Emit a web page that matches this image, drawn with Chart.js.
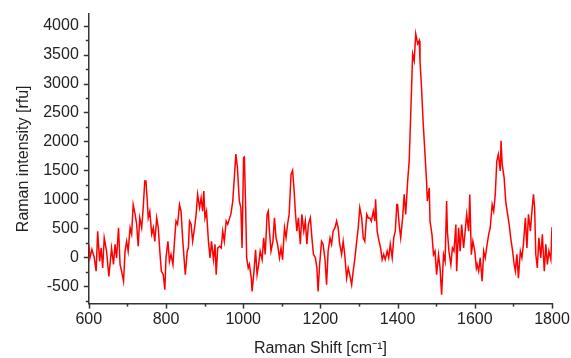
<!DOCTYPE html>
<html>
<head>
<meta charset="utf-8">
<script src="https://cdn.jsdelivr.net/npm/chart.js@4.4.1/dist/chart.umd.min.js"></script>
<style>
  html, body { margin: 0; padding: 0; background: #fff; }
  #wrap { width: 571px; height: 358px; }
</style>
</head>
<body>
<div id="wrap"><canvas id="myChart"></canvas></div>
<script>
// data
const shift = [600, 603, 608, 614, 619, 623, 628, 632, 636, 640, 646, 652, 659, 664, 668, 672, 677, 681, 685, 690, 694, 698, 702, 707, 711, 715, 720, 724, 728, 732, 737, 741, 745, 748, 751, 754, 758, 763, 767, 771, 776, 780, 784, 788, 793, 797, 800, 805, 809, 813, 818, 822, 826, 830, 835, 839, 843, 848, 850, 855, 858, 861, 865, 869, 874, 878, 882, 887, 891, 895, 898, 901, 905, 910, 914, 918, 923, 927, 930, 934, 939, 943, 947, 951, 956, 960, 965, 968, 973, 977, 981, 985, 990, 994, 997, 1001, 1003, 1006, 1009, 1013, 1016, 1021, 1023, 1028, 1032, 1036, 1040, 1044, 1049, 1053, 1057, 1062, 1065, 1068, 1072, 1077, 1081, 1085, 1089, 1094, 1098, 1102, 1107, 1111, 1115, 1119, 1124, 1128, 1132, 1135, 1139, 1143, 1148, 1152, 1157, 1161, 1165, 1169, 1174, 1178, 1182, 1187, 1191, 1194, 1198, 1203, 1207, 1212, 1216, 1220, 1225, 1229, 1233, 1238, 1242, 1246, 1250, 1255, 1259, 1263, 1268, 1272, 1276, 1281, 1285, 1289, 1294, 1298, 1302, 1307, 1311, 1315, 1320, 1324, 1328, 1332, 1337, 1341, 1343, 1347, 1352, 1356, 1360, 1364, 1368, 1373, 1377, 1381, 1386, 1390, 1394, 1398, 1400, 1404, 1408, 1413, 1417, 1421, 1426, 1430, 1434, 1439, 1443, 1447, 1452, 1456, 1458, 1462, 1466, 1470, 1475, 1477, 1482, 1484, 1489, 1493, 1497, 1501, 1506, 1510, 1514, 1519, 1523, 1527, 1529, 1533, 1538, 1542, 1546, 1551, 1553, 1558, 1562, 1566, 1571, 1575, 1579, 1584, 1587, 1591, 1595, 1600, 1604, 1606, 1610, 1614, 1619, 1623, 1627, 1632, 1636, 1640, 1645, 1649, 1653, 1657, 1661, 1666, 1668, 1671, 1676, 1680, 1685, 1689, 1693, 1698, 1702, 1705, 1709, 1713, 1718, 1722, 1726, 1731, 1735, 1739, 1744, 1748, 1752, 1755, 1758, 1762, 1766, 1771, 1775, 1780, 1784, 1788, 1792, 1797, 1800];
const intensity = [225, -10, 135, 0, -240, 450, -70, 160, -185, 335, 105, -330, 160, -125, 225, -10, 510, -125, -240, -415, 105, 275, 105, 510, 400, 910, 740, 570, 190, 680, 510, 855, 1315, 1315, 1027, 680, 795, 400, 510, 275, 680, 510, 105, -240, -300, -560, -10, 275, -70, 50, -125, 275, 625, 570, 910, 795, 335, -125, -300, 105, 160, 625, 570, 275, 510, 740, 1085, 855, 1027, 795, 1143, 680, 795, 275, -10, 275, -40, 225, -300, 160, 190, 160, 450, 275, 625, 570, 680, 740, 970, 1374, 1780, 1547, 970, 855, 160, 1720, 1730, 970, -10, -185, -125, -360, -590, -240, 130, -300, -125, 105, -40, 335, 50, 740, 795, 450, 105, 275, 680, 335, 225, -10, 160, -40, 510, 335, 570, 740, 1430, 1500, 1143, 795, 450, 680, 225, 740, 450, 625, 225, 570, 680, 335, 50, -10, -185, -590, -125, 275, 225, -40, -475, 105, 335, 225, 450, 510, 625, 510, 225, 50, 275, 50, -360, -185, -300, -475, -240, -40, 275, 510, 855, 680, 335, 275, 740, 680, 680, 625, 795, 625, 1000, 450, 275, 160, -40, 50, -40, 105, -10, 225, -10, 335, 450, 910, 910, 565, 335, 680, 1085, 740, 1315, 1660, 2470, 3510, 3395, 3857, 3685, 3740, 3395, 2930, 2355, 1890, 1315, 970, 1200, 625, 395, 45, 105, -300, 45, -185, -645, 45, -70, 970, 450, 105, -125, 160, 105, 565, -240, 510, 105, 565, 160, 450, 740, 450, 1085, 45, 275, 105, -185, -125, -240, -10, -415, 105, -10, 225, 395, 510, 910, 795, 1085, 1660, 1775, 1490, 2010, 1605, 1375, 970, 740, 570, 335, 105, -125, -240, 50, -360, 105, -10, 225, 680, 160, 740, 450, 795, 1085, 855, 50, -185, 335, -10, 395, -240, 225, -125, 105, -40, 520];

// tick values, labels only on the major ones
const xTicks = [600, 700, 800, 900, 1000, 1100, 1200, 1300, 1400, 1500, 1600, 1700, 1800];
const yTicks = [-750, -500, -250, 0, 250, 500, 750, 1000, 1250, 1500, 1750, 2000, 2250, 2500, 2750, 3000, 3250, 3500, 3750, 4000];

const axisColor = '#333';
const font = { family: 'Liberation Sans, Arial, sans-serif', size: 16 };

// draw major/minor tick marks outside the axes
const tickMarks = {
    id: 'tickMarks',
    afterDraw(chart) {
        const { ctx, scales: { x, y } } = chart;
        ctx.save();
        ctx.strokeStyle = axisColor;
        ctx.lineWidth = 1.5;
        xTicks.forEach(v => {
            const px = Math.round(x.getPixelForValue(v)) + 0.5;
            const len = v % 200 === 0 ? 5 : 3;
            ctx.beginPath();
            ctx.moveTo(px, x.top);
            ctx.lineTo(px, x.top + len);
            ctx.stroke();
        });
        yTicks.forEach(v => {
            const py = Math.round(y.getPixelForValue(v)) + 0.5;
            const len = v % 500 === 0 ? 5 : 3;
            ctx.beginPath();
            ctx.moveTo(y.right, py);
            ctx.lineTo(y.right - len, py);
            ctx.stroke();
        });
        ctx.restore();
    }
};

const ctx = document.getElementById('myChart').getContext('2d');

const myChart = new Chart(ctx, {
    type: 'line',
    data: {
        datasets: [{
            data: shift.map((s, i) => ({ x: s, y: intensity[i] })),
            borderColor: '#ff0000',
            borderWidth: 1.5,
            pointRadius: 0,
            tension: 0,
            fill: false
        }]
    },
    options: {
        responsive: true,
        maintainAspectRatio: false,
        animation: false,
        layout: { padding: { left: 14, right: 0, top: 0, bottom: 0 } },
        scales: {
            x: {
                type: 'linear',
                min: 600,
                max: 1800,
                afterBuildTicks: scale => { scale.ticks = xTicks.map(v => ({ value: v })); },
                afterFit: scale => { scale.paddingRight = 19; },
                ticks: {
                    autoSkip: false,
                    maxRotation: 0,
                    padding: 6,
                    color: '#222',
                    font: font,
                    callback: v => (v % 200 === 0 ? v : '')
                },
                grid: { drawOnChartArea: false, drawTicks: false },
                border: { display: true, color: axisColor, width: 1.5 },
                title: {
                    display: true,
                    text: 'Raman Shift [cm\u207B\u00B9]',
                    color: '#222',
                    font: font,
                    padding: { top: 4, bottom: 0 }
                }
            },
            y: {
                min: -800,
                max: 4200,
                afterBuildTicks: scale => { scale.ticks = yTicks.map(v => ({ value: v })); },
                afterFit: scale => { scale.paddingTop = 14; },
                ticks: {
                    autoSkip: false,
                    padding: 10,
                    color: '#222',
                    font: font,
                    callback: v => (v % 500 === 0 ? v : '')
                },
                grid: { drawOnChartArea: false, drawTicks: false },
                border: { display: true, color: axisColor, width: 1.5 },
                title: {
                    display: true,
                    text: 'Raman intensity [rfu]',
                    color: '#222',
                    font: font,
                    padding: { top: 0, bottom: 0 }
                }
            }
        },
        plugins: {
            legend: { display: false },
            tooltip: { enabled: false }
        }
    },
    plugins: [tickMarks]
});
</script>
</body>
</html>
